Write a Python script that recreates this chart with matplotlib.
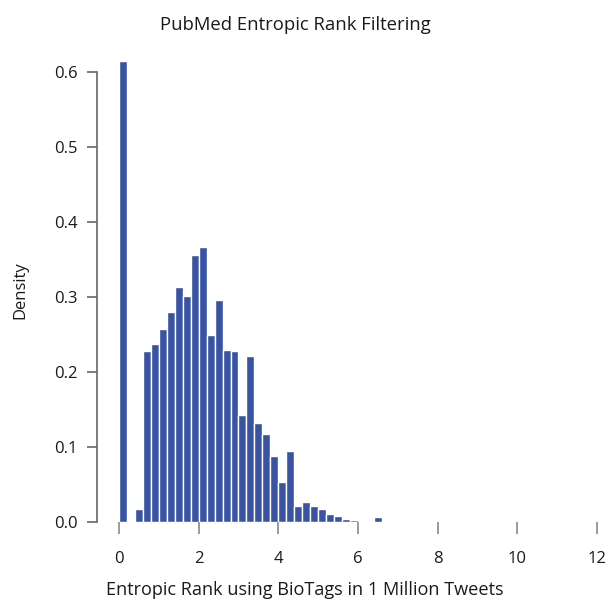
import matplotlib
matplotlib.use("Agg")
import matplotlib.pyplot as plt

plt.rcParams['font.family'] = ['Open Sans', 'DejaVu Sans']

# Histogram of entropic rank (bin width 0.2), density scale
bin_left = [0.0, 0.2, 0.4, 0.6, 0.8, 1.0, 1.2, 1.4, 1.6, 1.8, 2.0, 2.2, 2.4,
            2.6, 2.8, 3.0, 3.2, 3.4, 3.6, 3.8, 4.0, 4.2, 4.4, 4.6, 4.8, 5.0,
            5.2, 5.4, 5.6, 5.8, 6.0, 6.2, 6.4]
density = [0.615, 0.0, 0.017, 0.228, 0.238, 0.257, 0.280, 0.314, 0.302,
           0.356, 0.367, 0.249, 0.296, 0.230, 0.228, 0.143, 0.222, 0.132,
           0.117, 0.088, 0.054, 0.095, 0.022, 0.027, 0.022, 0.017, 0.011,
           0.0076, 0.0045, 0.0027, 0.0, 0.0, 0.007]
bin_width = 0.2
x_ticks = [0, 2, 4, 6, 8, 10, 12]
y_ticks = [0.0, 0.1, 0.2, 0.3, 0.4, 0.5, 0.6]

W, H = 608, 606
fig = plt.figure(figsize=(W / 100, H / 100), dpi=100)

# axes placed in pixel terms: y=0 at 522px, y-spine at x=97px
left_px, right_px, bottom_px, top_px = 97, 600, 522, 49.5
ax = fig.add_axes([left_px / W, (H - bottom_px) / H,
                   (right_px - left_px) / W, (bottom_px - top_px) / H])
ax.set_xlim(-0.552, 12.076)
ax.set_ylim(0, (bottom_px - top_px) / 750)

bar_color = '#3953A4'
ax.bar(bin_left, density, width=bin_width, align='edge', color=bar_color,
       edgecolor='white', linewidth=1.0)

for side in ('top', 'right', 'bottom'):
    ax.spines[side].set_visible(False)
ax.spines['left'].set_color('#666666')
ax.spines['left'].set_linewidth(1.2)
ax.spines['left'].set_bounds(0, 0.6)

ax.set_xticks(x_ticks)
ax.set_xticklabels([str(t) for t in x_ticks])
ax.set_yticks(y_ticks)
ax.set_yticklabels([f"{t:.1f}" for t in y_ticks])

ax.tick_params(axis='x', direction='out', length=8.6, width=1.2,
               color='#888888', pad=12, labelsize=12, labelcolor='#1a1a1a')
ax.tick_params(axis='y', direction='out', length=7.2, width=1.2,
               color='#666666', pad=6.5, labelsize=12, labelcolor='#1a1a1a')

fig.text(295 / W, 1 - 25 / H, 'PubMed Entropic Rank Filtering',
         ha='center', va='center', fontsize=13.3, color='#1a1a1a')
fig.text(305 / W, 1 - 590 / H,
         'Entropic Rank using BioTags in 1 Million Tweets',
         ha='center', va='center', fontsize=13.1, color='#1a1a1a')
fig.text(20.5 / W, 1 - 290 / H, 'Density', rotation=90,
         ha='center', va='center', fontsize=12, color='#1a1a1a')

fig.savefig('out.png', dpi=100)
